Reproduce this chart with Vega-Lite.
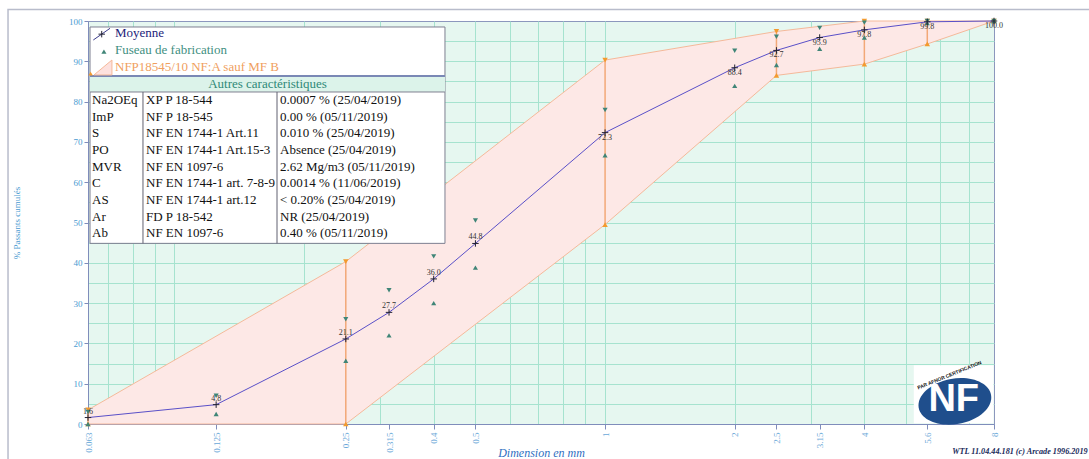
{
  "$schema": "https://vega.github.io/schema/vega-lite/v6.json",
  "width": 906,
  "height": 403,
  "autosize": {"type": "none"},
  "padding": {"left": 88, "top": 21, "right": 95, "bottom": 35},
  "background": "white",
  "config": {
    "view": {"fill": "#e6f7f0", "stroke": "#8c97bd", "strokeWidth": 1},
    "font": "Liberation Serif"
  },
  "datasets": {
    "tamis": [
      {"taille": 0.063, "moyenne": 1.6, "fab_min": 0, "fab_max": 3.0},
      {"taille": 0.125, "moyenne": 4.8, "fab_min": 2.5, "fab_max": 7.0},
      {"taille": 0.25, "moyenne": 21.1, "fab_min": 15.7, "fab_max": 26.0},
      {"taille": 0.315, "moyenne": 27.7, "fab_min": 22.0, "fab_max": 33.2},
      {"taille": 0.4, "moyenne": 36.0, "fab_min": 30.0, "fab_max": 41.6},
      {"taille": 0.5, "moyenne": 44.8, "fab_min": 38.8, "fab_max": 50.5},
      {"taille": 1, "moyenne": 72.3, "fab_min": 66.7, "fab_max": 77.9},
      {"taille": 2, "moyenne": 88.4, "fab_min": 83.9, "fab_max": 92.6},
      {"taille": 2.5, "moyenne": 92.7, "fab_min": 89.1, "fab_max": 96.1},
      {"taille": 3.15, "moyenne": 95.9, "fab_min": 93.1, "fab_max": 98.3},
      {"taille": 4, "moyenne": 97.8, "fab_min": 95.9, "fab_max": 99.6},
      {"taille": 5.6, "moyenne": 99.8, "fab_min": 99.5, "fab_max": 100},
      {"taille": 8, "moyenne": 100.0, "fab_min": 100, "fab_max": 100}
    ],
    "fuseau": [
      {"taille": 0.063, "inf": 0, "sup": 3.5},
      {"taille": 0.25, "inf": 0, "sup": 40.3},
      {"taille": 1, "inf": 49.5, "sup": 90.3},
      {"taille": 2.5, "inf": 86.5, "sup": 97.4},
      {"taille": 4, "inf": 89.3, "sup": 100},
      {"taille": 5.6, "inf": 94.3, "sup": 100},
      {"taille": 8, "inf": 100, "sup": 100}
    ],
    "caracteristiques": [
      {"ligne": 0, "code": "Na2OEq", "norme": "XP P 18-544", "valeur": "0.0007 % (25/04/2019)"},
      {"ligne": 1, "code": "ImP", "norme": "NF P 18-545", "valeur": "0.00 % (05/11/2019)"},
      {"ligne": 2, "code": "S", "norme": "NF EN 1744-1 Art.11", "valeur": "0.010 % (25/04/2019)"},
      {"ligne": 3, "code": "PO", "norme": "NF EN 1744-1 Art.15-3", "valeur": "Absence (25/04/2019)"},
      {"ligne": 4, "code": "MVR", "norme": "NF EN 1097-6", "valeur": "2.62 Mg/m3 (05/11/2019)"},
      {"ligne": 5, "code": "C", "norme": "NF EN 1744-1 art. 7-8-9", "valeur": "0.0014 % (11/06/2019)"},
      {"ligne": 6, "code": "AS", "norme": "NF EN 1744-1 art.12", "valeur": "< 0.20% (25/04/2019)"},
      {"ligne": 7, "code": "Ar", "norme": "FD P 18-542", "valeur": "NR (25/04/2019)"},
      {"ligne": 8, "code": "Ab", "norme": "NF EN 1097-6", "valeur": "0.40 % (05/11/2019)"}
    ]
  },
  "layer": [
    {
      "layer": [
        {
          "data": {"name": "fuseau"},
          "mark": {"type": "area", "color": "#fde8e6", "opacity": 1},
          "encoding": {
            "x": {"field": "taille", "type": "quantitative",
              "scale": {"type": "log", "domain": [0.063, 8], "nice": false},
              "axis": {"orient": "bottom", "values": [0.07, 0.08, 0.09, 0.1, 0.2, 0.3, 0.4, 0.5, 0.6, 0.7, 0.8, 0.9, 1, 2, 3, 4, 5, 6, 7],
                "grid": true, "gridColor": "#a6e3cf", "gridOpacity": 1, "labels": false, "ticks": false, "domain": false, "title": null}},
            "y": {"field": "inf", "type": "quantitative",
              "scale": {"domain": [0, 100], "nice": false, "zero": false},
              "axis": {"orient": "left", "values": [5, 10, 15, 20, 25, 30, 35, 40, 45, 50, 55, 60, 65, 70, 75, 80, 85, 90, 95],
                "grid": true, "gridColor": "#a6e3cf", "gridOpacity": 1, "labels": false, "ticks": false, "domain": false, "title": null}},
            "y2": {"field": "sup"}
          }
        },
        {
          "data": {"name": "fuseau"},
          "mark": {"type": "line", "color": "#f5b99a", "strokeWidth": 1},
          "encoding": {
            "x": {"field": "taille", "type": "quantitative",
              "axis": {"orient": "bottom", "values": [0.063, 0.125, 0.25, 0.315, 0.4, 0.5, 1, 2, 2.5, 3.15, 4, 5.6, 8],
                "grid": false, "labelExpr": "'' + datum.value", "labelAngle": -90, "labelColor": "#6aa8d8", "labelFont": "Liberation Serif", "labelFontSize": 9,
                "labelPadding": 3, "tickColor": "#7f8dbb", "tickSize": 5, "domainColor": "#7f8dbb",
                "title": "Dimension en mm", "titleFont": "Liberation Serif", "titleFontStyle": "italic", "titleFontWeight": "normal",
                "titleFontSize": 12, "titleColor": "#2f6fbf", "titleBaseline": "middle", "titleY": 28}},
            "y": {"field": "sup", "type": "quantitative",
              "axis": {"orient": "left", "values": [0, 10, 20, 30, 40, 50, 60, 70, 80, 90, 100],
                "grid": false, "labelColor": "#4a9bd1", "labelFont": "Liberation Serif", "labelFontSize": 9, "labelPadding": 2,
                "tickColor": "#7f8dbb", "tickSize": 4, "domainColor": "#7f8dbb",
                "title": "% Passants cumulés", "titleFont": "Liberation Serif", "titleFontWeight": "normal", "titleFontSize": 9,
                "titleColor": "#4a9bd1", "titlePadding": 47}}
          }
        },
        {
          "data": {"name": "fuseau"},
          "mark": {"type": "line", "color": "#f5b99a", "strokeWidth": 1},
          "encoding": {
            "x": {"field": "taille", "type": "quantitative", "axis": null},
            "y": {"field": "inf", "type": "quantitative", "axis": null}
          }
        },
        {
          "data": {"name": "fuseau"},
          "mark": {"type": "rule", "color": "#f2a877", "strokeWidth": 1.5},
          "encoding": {
            "x": {"field": "taille", "type": "quantitative", "axis": null},
            "y": {"field": "inf", "type": "quantitative", "axis": null},
            "y2": {"field": "sup"}
          }
        },
        {
          "data": {"name": "fuseau"},
          "mark": {"type": "point", "shape": "triangle-down", "filled": true, "size": 30, "color": "#f39a2e", "opacity": 1},
          "encoding": {
            "x": {"field": "taille", "type": "quantitative", "axis": null},
            "y": {"field": "sup", "type": "quantitative", "axis": null}
          }
        },
        {
          "data": {"name": "fuseau"},
          "mark": {"type": "point", "shape": "triangle-up", "filled": true, "size": 30, "color": "#f39a2e", "opacity": 1},
          "encoding": {
            "x": {"field": "taille", "type": "quantitative", "axis": null},
            "y": {"field": "inf", "type": "quantitative", "axis": null}
          }
        },
        {
          "data": {"name": "tamis"},
          "mark": {"type": "line", "color": "#5a50c8", "strokeWidth": 1},
          "encoding": {
            "x": {"field": "taille", "type": "quantitative", "axis": null},
            "y": {"field": "moyenne", "type": "quantitative", "axis": null}
          }
        },
        {
          "data": {"name": "tamis"},
          "mark": {"type": "point", "shape": "triangle-down", "filled": true, "size": 26, "color": "#3f8577", "opacity": 1},
          "encoding": {
            "x": {"field": "taille", "type": "quantitative", "axis": null},
            "y": {"field": "fab_max", "type": "quantitative", "axis": null}
          }
        },
        {
          "data": {"name": "tamis"},
          "mark": {"type": "point", "shape": "triangle-up", "filled": true, "size": 26, "color": "#3f8577", "opacity": 1},
          "encoding": {
            "x": {"field": "taille", "type": "quantitative", "axis": null},
            "y": {"field": "fab_min", "type": "quantitative", "axis": null}
          }
        },
        {
          "data": {"name": "tamis"},
          "mark": {"type": "point", "shape": "M-1,0L1,0M0,-1L0,1", "filled": false, "size": 42, "stroke": "#222233", "strokeWidth": 1, "opacity": 1},
          "encoding": {
            "x": {"field": "taille", "type": "quantitative", "axis": null},
            "y": {"field": "moyenne", "type": "quantitative", "axis": null}
          }
        },
        {
          "data": {"name": "tamis"},
          "transform": [{"filter": "datum.taille <= 0.5"}],
          "mark": {"type": "text", "fontSize": 8, "font": "Liberation Serif", "color": "#333333", "dy": -6},
          "encoding": {
            "x": {"field": "taille", "type": "quantitative", "axis": null},
            "y": {"field": "moyenne", "type": "quantitative", "axis": null},
            "text": {"field": "moyenne", "type": "quantitative", "format": ".1f"}
          }
        },
        {
          "data": {"name": "tamis"},
          "transform": [{"filter": "datum.taille > 0.5"}],
          "mark": {"type": "text", "fontSize": 8, "font": "Liberation Serif", "color": "#333333", "dy": 5},
          "encoding": {
            "x": {"field": "taille", "type": "quantitative", "axis": null},
            "y": {"field": "moyenne", "type": "quantitative", "axis": null},
            "text": {"field": "moyenne", "type": "quantitative", "format": ".1f"}
          }
        },
        {
          "data": {"values": [{}]},
          "mark": {"type": "rect", "fill": "white", "strokeWidth": 0},
          "encoding": {
            "x": {"datum": 5.21, "type": "quantitative", "axis": null},
            "x2": {"datum": 7.98},
            "y": {"datum": 14.6, "type": "quantitative", "axis": null},
            "y2": {"datum": 0.2}
          }
        },
        {
          "data": {"values": [{}]},
          "mark": {"type": "point", "shape": "M-1,0A1,0.62 0 1,1 1,0A1,0.62 0 1,1 -1,0Z", "filled": true, "size": 5400, "color": "#1f4e8c", "opacity": 1, "angle": -10},
          "encoding": {
            "x": {"datum": 6.49, "type": "quantitative", "axis": null},
            "y": {"datum": 5.6, "type": "quantitative", "axis": null}
          }
        },
        {
          "data": {"values": [{}]},
          "mark": {"type": "text", "text": "NF", "font": "Liberation Sans", "fontWeight": "bold", "fontSize": 38, "color": "white", "baseline": "middle", "align": "center"},
          "encoding": {
            "x": {"datum": 6.45, "type": "quantitative", "axis": null},
            "y": {"datum": 6.0, "type": "quantitative", "axis": null}
          }
        },
        {
          "data": {"values": [{}]},
          "mark": {"type": "text", "text": "PAR AFNOR CERTIFICATION", "font": "Liberation Sans", "fontWeight": "bold", "fontSize": 5, "color": "#111111", "baseline": "middle", "align": "center", "angle": -22},
          "encoding": {
            "x": {"datum": 6.3, "type": "quantitative", "axis": null},
            "y": {"datum": 12.2, "type": "quantitative", "axis": null}
          }
        },
        {
          "data": {"values": [{}]},
          "mark": {"type": "text", "text": "WTL 11.04.44.181 (c) Arcade 1996.2019", "font": "Liberation Serif", "fontStyle": "italic", "fontWeight": "bold", "fontSize": 8.2, "color": "#202a5a", "baseline": "middle", "align": "left"},
          "encoding": {
            "x": {"datum": 6.4, "type": "quantitative", "axis": null},
            "y": {"datum": -6.95, "type": "quantitative", "axis": null}
          }
        },
        {
          "data": {"values": [{}]},
          "mark": {"type": "rect", "fillOpacity": 0, "stroke": "#b8bccb", "strokeWidth": 1.5},
          "encoding": {
            "x": {"datum": 0.04108, "type": "quantitative", "axis": null},
            "x2": {"datum": 60},
            "y": {"datum": 102.85, "type": "quantitative", "axis": null},
            "y2": {"datum": -30}
          }
        }
      ],
      "resolve": {"axis": {"x": "independent", "y": "independent"}}
    },
    {
      "layer": [
        {
          "data": {"values": [{}]},
          "mark": {"type": "rect", "fill": "white", "stroke": "#7d7f90", "strokeWidth": 1},
          "encoding": {
            "x": {"datum": 0.06368, "type": "quantitative", "axis": null},
            "x2": {"datum": 0.42487},
            "y": {"datum": -4.38, "type": "quantitative", "axis": null,
              "scale": {"domain": [-4.739, 19.436], "reverse": true, "nice": false, "zero": false}},
            "y2": {"datum": 8.6}
          }
        },
        {
          "data": {"values": [{}]},
          "mark": {"type": "rect", "fill": "#dcf3ea", "strokeWidth": 0},
          "encoding": {
            "x": {"datum": 0.06368, "type": "quantitative", "axis": null},
            "x2": {"datum": 0.42487},
            "y": {"datum": -1.44, "type": "quantitative", "axis": null},
            "y2": {"datum": -0.48}
          }
        },
        {
          "data": {"values": [{}]},
          "mark": {"type": "rule", "color": "#7a88b5", "strokeWidth": 2},
          "encoding": {
            "x": {"datum": 0.06368, "type": "quantitative", "axis": null},
            "x2": {"datum": 0.42487},
            "y": {"datum": -1.44, "type": "quantitative", "axis": null}
          }
        },
        {
          "data": {"values": [{}]},
          "mark": {"type": "rule", "color": "#808090", "strokeWidth": 1},
          "encoding": {
            "x": {"datum": 0.06368, "type": "quantitative", "axis": null},
            "x2": {"datum": 0.42487},
            "y": {"datum": -0.48, "type": "quantitative", "axis": null}
          }
        },
        {
          "data": {"values": [{}]},
          "mark": {"type": "rule", "color": "#606070", "strokeWidth": 1},
          "encoding": {
            "x": {"datum": 0.08453, "type": "quantitative", "axis": null},
            "y": {"datum": -0.48, "type": "quantitative", "axis": null},
            "y2": {"datum": 8.6}
          }
        },
        {
          "data": {"values": [{}]},
          "mark": {"type": "rule", "color": "#606070", "strokeWidth": 1},
          "encoding": {
            "x": {"datum": 0.17307, "type": "quantitative", "axis": null},
            "y": {"datum": -0.48, "type": "quantitative", "axis": null},
            "y2": {"datum": 8.6}
          }
        },
        {
          "data": {"values": [{}]},
          "mark": {"type": "rule", "color": "#3a3a8a", "strokeWidth": 1},
          "encoding": {
            "x": {"datum": 0.06481, "type": "quantitative", "axis": null},
            "x2": {"datum": 0.07087},
            "y": {"datum": -3.6, "type": "quantitative", "axis": null},
            "y2": {"datum": -4.3}
          }
        },
        {
          "data": {"values": [{}]},
          "mark": {"type": "point", "shape": "M-1,0L1,0M0,-1L0,1", "filled": false, "size": 42, "stroke": "#222233", "strokeWidth": 1, "opacity": 1},
          "encoding": {
            "x": {"datum": 0.0678, "type": "quantitative", "axis": null},
            "y": {"datum": -3.95, "type": "quantitative", "axis": null}
          }
        },
        {
          "data": {"values": [{}]},
          "mark": {"type": "point", "shape": "triangle-up", "filled": true, "size": 26, "color": "#3f8577", "opacity": 1},
          "encoding": {
            "x": {"datum": 0.0686, "type": "quantitative", "axis": null},
            "y": {"datum": -2.9, "type": "quantitative", "axis": null}
          }
        },
        {
          "data": {"values": [{}]},
          "mark": {"type": "point", "shape": "M-1,0.83L1,0.83L1,-0.83Z", "filled": true, "size": 324, "fill": "#fde1de", "stroke": "#f5b99a", "strokeWidth": 1, "opacity": 1},
          "encoding": {
            "x": {"datum": 0.06824, "type": "quantitative", "axis": null},
            "y": {"datum": -1.95, "type": "quantitative", "axis": null}
          }
        },
        {
          "data": {"values": [{}]},
          "mark": {"type": "point", "shape": "triangle-up", "filled": true, "size": 20, "color": "#f39a2e", "opacity": 1},
          "encoding": {
            "x": {"datum": 0.0639, "type": "quantitative", "axis": null},
            "y": {"datum": -1.58, "type": "quantitative", "axis": null}
          }
        },
        {
          "data": {"values": [{}]},
          "mark": {"type": "text", "text": "Moyenne", "fontSize": 13, "font": "Liberation Serif", "color": "#23237a", "align": "left", "baseline": "middle"},
          "encoding": {
            "x": {"datum": 0.07278, "type": "quantitative", "axis": null},
            "y": {"datum": -4.0, "type": "quantitative", "axis": null}
          }
        },
        {
          "data": {"values": [{}]},
          "mark": {"type": "text", "text": "Fuseau de fabrication", "fontSize": 13, "font": "Liberation Serif", "color": "#3f8f7f", "align": "left", "baseline": "middle"},
          "encoding": {
            "x": {"datum": 0.07278, "type": "quantitative", "axis": null},
            "y": {"datum": -2.97, "type": "quantitative", "axis": null}
          }
        },
        {
          "data": {"values": [{}]},
          "mark": {"type": "text", "text": "NFP18545/10 NF:A sauf MF B", "fontSize": 13, "font": "Liberation Serif", "color": "#f0a060", "align": "left", "baseline": "middle"},
          "encoding": {
            "x": {"datum": 0.07278, "type": "quantitative", "axis": null},
            "y": {"datum": -2.0, "type": "quantitative", "axis": null}
          }
        },
        {
          "data": {"values": [{}]},
          "mark": {"type": "text", "text": "Autres caractéristiques", "fontSize": 13, "font": "Liberation Serif", "color": "#2f8a78", "align": "center", "baseline": "middle"},
          "encoding": {
            "x": {"datum": 0.1645, "type": "quantitative", "axis": null},
            "y": {"datum": -0.94, "type": "quantitative", "axis": null}
          }
        },
        {
          "data": {"name": "caracteristiques"},
          "mark": {"type": "text", "fontSize": 13, "font": "Liberation Serif", "color": "#111111", "align": "left", "baseline": "middle"},
          "encoding": {
            "x": {"datum": 0.06436, "type": "quantitative", "axis": null},
            "y": {"field": "ligne", "type": "quantitative", "axis": null},
            "text": {"field": "code"}
          }
        },
        {
          "data": {"name": "caracteristiques"},
          "mark": {"type": "text", "fontSize": 13, "font": "Liberation Serif", "color": "#111111", "align": "left", "baseline": "middle"},
          "encoding": {
            "x": {"datum": 0.0859, "type": "quantitative", "axis": null},
            "y": {"field": "ligne", "type": "quantitative", "axis": null},
            "text": {"field": "norme"}
          }
        },
        {
          "data": {"name": "caracteristiques"},
          "mark": {"type": "text", "fontSize": 13, "font": "Liberation Serif", "color": "#111111", "align": "left", "baseline": "middle"},
          "encoding": {
            "x": {"datum": 0.17586, "type": "quantitative", "axis": null},
            "y": {"field": "ligne", "type": "quantitative", "axis": null},
            "text": {"field": "valeur"}
          }
        }
      ]
    }
  ],
  "resolve": {"scale": {"y": "independent"}}
}
